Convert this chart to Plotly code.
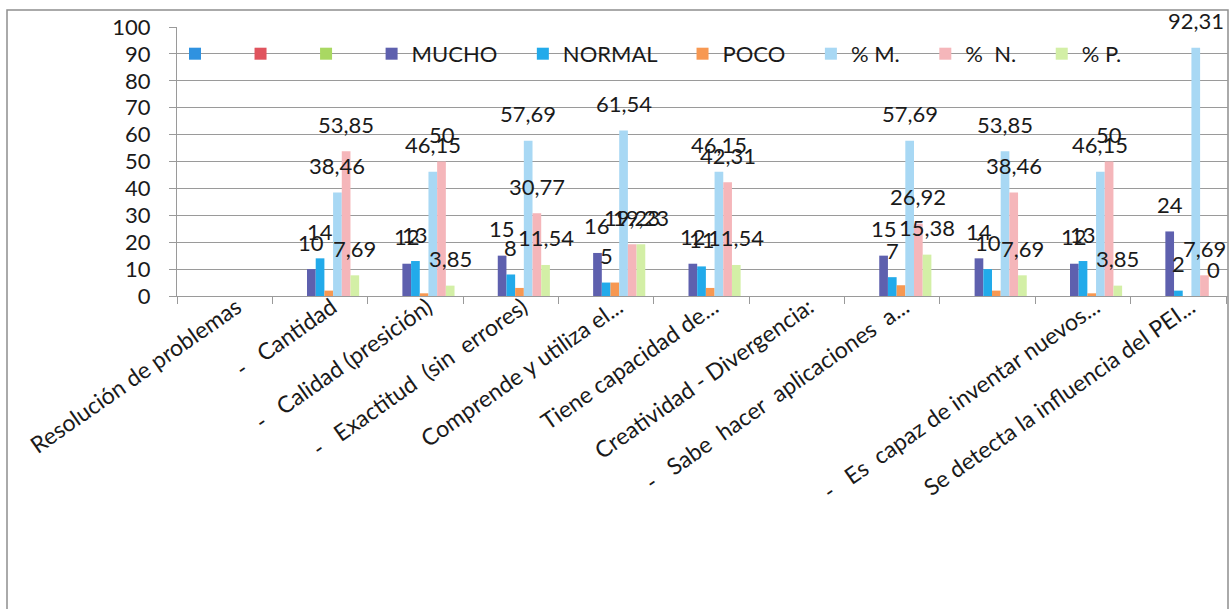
import plotly.graph_objects as go

NB = "\u00a0"

categories = [
    "Resolución de problemas",
    "-" + NB * 2 + " Cantidad",
    "-" + NB * 2 + " Calidad (presición)",
    "-" + NB * 2 + " Exactitud" + NB + " (sin" + NB + " errores)",
    "Comprende y utiliza el...",
    "Tiene capacidad de...",
    "Creatividad - Divergencia:",
    "-" + NB * 2 + " Sabe" + NB + " hacer" + NB + " aplicaciones" + NB + " a...",
    NB,
    "-" + NB * 2 + " Es" + NB + " capaz de inventar nuevos...",
    "Se detecta la influencia del PEI...",
]

mucho = [None, 10, 12, 15, 16, 12, None, 15, 14, 12, 24]
normal = [None, 14, 13, 8, 5, 11, None, 7, 10, 13, 2]
poco = [None, 2, 1, 3, 5, 3, None, 4, 2, 1, 0]
pct_m = [None, 38.46, 46.15, 57.69, 61.54, 46.15, None, 57.69, 53.85, 46.15, 92.31]
pct_n = [None, 53.85, 50, 30.77, 19.23, 42.31, None, 26.92, 38.46, 50, 7.69]
pct_p = [None, 7.69, 3.85, 11.54, 19.23, 11.54, None, 15.38, 7.69, 3.85, 0]
blank = [None] * len(categories)

# (legend name, values, colour, show value labels)
series = [
    ("", blank, "#2F92E0", False),
    ("", blank, "#E0545E", False),
    ("", blank, "#A9D862", False),
    ("MUCHO", mucho, "#5E60AE", True),
    ("NORMAL", normal, "#22AAEA", True),
    ("POCO", poco, "#F79852", False),
    ("% M.", pct_m, "#A8D8F4", True),
    ("%" + NB + " N.", pct_n, "#F5B6BA", True),
    ("% P.", pct_p, "#D3EFA6", True),
]

W, H = 1231, 609
ML, MR, MT, MB = 177, 3, 27, 313
PW = W - ML - MR
PH = H - MT - MB
BARGAP = 0.18
FONT = "Lato"
GRID = "#9a9a9a"


def fmt(v):
    s = ("%.2f" % v).rstrip("0").rstrip(".")
    return s.replace(".", ",")


fig = go.Figure()
for name, vals, color, _ in series:
    fig.add_trace(go.Bar(
        x=categories, y=vals, name=name + NB * 4,
        marker=dict(color=color, line=dict(width=0)),
        hoverinfo="skip",
    ))

# value labels sit above their bars, shifted to each bar's slot in the group
slot_px = PW / len(categories) * (1 - BARGAP) / len(series)
annotations = []
for k, (name, vals, color, show) in enumerate(series):
    if not show:
        continue
    for cat, v in zip(categories, vals):
        if v is None:
            continue
        annotations.append(dict(
            x=cat, y=v, text=fmt(v), showarrow=False,
            xshift=(k - (len(series) - 1) / 2) * slot_px, yshift=27,
            yanchor="middle", xanchor="center",
            font=dict(family=FONT, size=22, color="#1a1a1a"),
        ))

fig.update_layout(
    width=W, height=H, autosize=False,
    margin=dict(l=ML, r=MR, t=MT, b=MB),
    paper_bgcolor="white", plot_bgcolor="white",
    barmode="group", bargap=BARGAP, bargroupgap=0,
    font=dict(family=FONT, size=22, color="#1a1a1a"),
    annotations=annotations,
    legend=dict(
        orientation="h", x=0, xanchor="left", y=0.9, yanchor="middle",
        bgcolor="rgba(0,0,0,0)", borderwidth=0, indentation=-2,
        font=dict(family=FONT, size=22, color="#1a1a1a"),
        traceorder="normal",
    ),
    xaxis=dict(
        type="category", categoryorder="array", categoryarray=categories,
        showline=True, linecolor=GRID, linewidth=1,
        ticks="outside", tickson="boundaries", ticklen=7, tickcolor=GRID,
        tickangle=-35, showgrid=False,
        ticklabelshift=12, ticklabelstandoff=-12,
        tickfont=dict(family=FONT, size=23, color="#1a1a1a"),
    ),
    yaxis=dict(
        range=[0, 100], dtick=10, tick0=0,
        showgrid=True, gridcolor=GRID, gridwidth=1,
        showline=True, linecolor=GRID, linewidth=1,
        ticks="outside", ticklen=7, tickcolor=GRID,
        zeroline=False, ticklabelstandoff=14,
        tickfont=dict(family=FONT, size=22, color="#1a1a1a"),
    ),
    shapes=[dict(
        type="rect", xref="paper", yref="paper",
        x0=(7 - ML) / PW, x1=(1228 - ML) / PW,
        y0=(MT + PH - 640) / PH, y1=(MT + PH - 10) / PH,
        line=dict(color="#8f8f8f", width=1.5), fillcolor="rgba(0,0,0,0)",
        layer="below",
    )],
)

fig.write_html("out.html")
